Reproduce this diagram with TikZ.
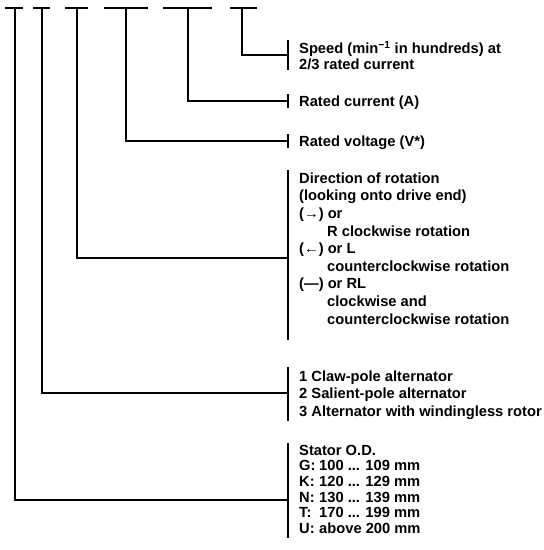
\documentclass[tikz,border=0pt]{standalone}
\usepackage{fontspec}
\setmainfont{Liberation Sans}
\begin{document}
\begin{tikzpicture}[x=1pt,y=-1pt,
  ln/.style={line width=1.1pt},
  lbl/.style={anchor=base west, inner sep=0pt, font=\fontsize{14.7}{17.5}\selectfont\bfseries}]
\useasboundingbox (0,0) rectangle (544,550);
% top bars
\foreach \n/\a/\b/\c in {A/5/15/23, B/33/42/50, C/65/77/88, D/104/126/148, E/163/188/212, F/230/242/257}{
  \draw[ln] (\a,8) -- (\c,8);
  \coordinate (bar\n) at (\b,8);
}
% labels
\node[lbl] (sp1) at (299,53.3) {Speed (min\textsuperscript{−1} in hundreds) at};
\node[lbl] (sp2) at (299,69.3) {2/3 rated current};
\node[lbl] (rc) at (299,106.3) {Rated current (A)};
\node[lbl] (rv) at (299,146.3) {Rated voltage (V*)};
\node[lbl] (d1) at (299,183.3) {Direction of rotation};
\node[lbl] (d2) at (299,200.9) {(looking onto drive end)};
\node[lbl] (d3) at (299,218.5) {(→) or};
\node[lbl] (d4) at (327,236.1) {R clockwise rotation};
\node[lbl] (d5) at (299,253.7) {(←) or L};
\node[lbl] (d6) at (327,271.3) {counterclockwise rotation};
\node[lbl] (d7) at (299,288.9) {(—) or RL};
\node[lbl] (d8) at (327,306.5) {clockwise and};
\node[lbl] (d9) at (327,324.1) {counterclockwise rotation};
\node[lbl] (c1) at (299,381.3) {1 Claw-pole alternator};
\node[lbl] (c2) at (299,398.8) {2 Salient-pole alternator};
\node[lbl] (c3) at (299,416.3) {3 Alternator with windingless rotor};
\node[lbl] (s1) at (299,455.3) {Stator O.D.};
\node[lbl] (s2) at (299,470.9) {\makebox[20pt][l]{G:}100 ... 109 mm};
\node[lbl] (s3) at (299,486.5) {\makebox[20pt][l]{K:}120 ... 129 mm};
\node[lbl] (s4) at (299,502.1) {\makebox[20pt][l]{N:}130 ... 139 mm};
\node[lbl] (s5) at (299,517.7) {\makebox[20pt][l]{T:}170 ... 199 mm};
\node[lbl] (s6) at (299,533.3) {\makebox[20pt][l]{U:}above 200 mm};
% ticks
\coordinate (tF) at (288,55);
\coordinate (tE) at (288,101);
\coordinate (tD) at (288,141);
\coordinate (tC) at (288,258);
\coordinate (tB) at (288,393);
\coordinate (tA) at (288,500);
\draw[ln] (288,40) -- (288,70);
\draw[ln] (288,94) -- (288,108);
\draw[ln] (288,134) -- (288,148);
\draw[ln] (288,170) -- (288,340);
\draw[ln] (288,367) -- (288,421);
\draw[ln] (288,443) -- (288,538);
% connectors
\draw[ln] (barF) |- (tF);
\draw[ln] (barE) |- (tE);
\draw[ln] (barD) |- (tD);
\draw[ln] (barC) |- (tC);
\draw[ln] (barB) |- (tB);
\draw[ln] (barA) |- (tA);
\end{tikzpicture}
\end{document}
